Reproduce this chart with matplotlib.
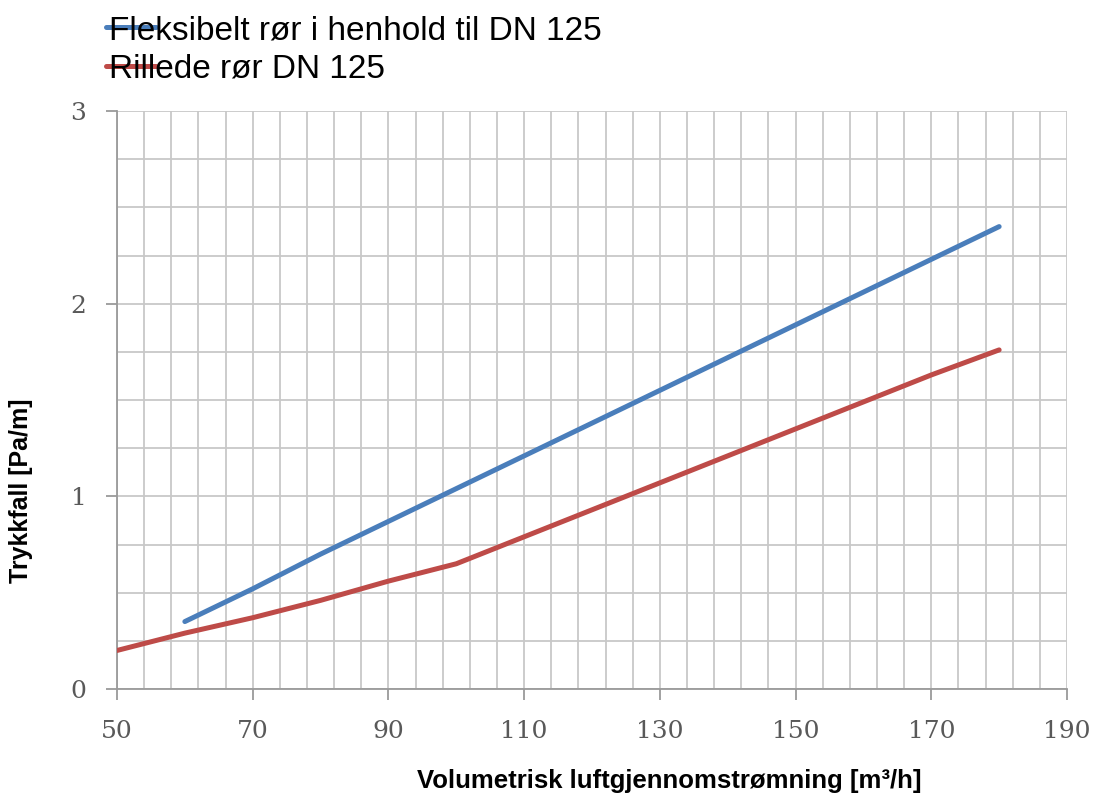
import numpy as np
import matplotlib
matplotlib.use("Agg")
import matplotlib.pyplot as plt

# data
flow_blue = [60, 70, 80, 90, 100, 110, 120, 130, 140, 150, 160, 170, 180]
dp_blue = [0.35, 0.52, 0.70, 0.87, 1.04, 1.21, 1.38, 1.55, 1.72, 1.89, 2.06, 2.23, 2.40]
flow_red = [50, 60, 70, 80, 90, 100, 110, 120, 130, 140, 150, 160, 170, 180]
dp_red = [0.20, 0.29, 0.37, 0.46, 0.56, 0.65, 0.79, 0.93, 1.07, 1.21, 1.35, 1.49, 1.63, 1.76]

label_blue = "Fleksibelt rør i henhold til DN 125"
label_red = "Rillede rør DN 125"
x_ticks = [50, 70, 90, 110, 130, 150, 170, 190]
y_ticks = [0, 1, 2, 3]

fig = plt.figure(figsize=(10.95, 8.01), dpi=100)
ax = fig.add_axes([117/1095, 1 - 689/801, 950/1095, 578/801])

ax.plot(flow_blue, dp_blue, color="#4a7ebb", lw=3.6, solid_capstyle="round", label=label_blue, zorder=3)
ax.plot(flow_red, dp_red, color="#be4b48", lw=3.6, solid_capstyle="round", label=label_red, zorder=3)

ax.set_xlim(50, 190)
ax.set_ylim(0, 3)
ax.set_xticks(x_ticks)
ax.set_yticks(y_ticks)
ax.set_xticks(np.arange(50, 191, 4), minor=True)
ax.set_yticks(np.arange(0, 3.01, 0.25), minor=True)
ax.grid(which="both", color="#c8c8c8", lw=1.3)
ax.set_axisbelow(True)

for s in ["top", "right"]:
    ax.spines[s].set_visible(False)
for s in ["left", "bottom"]:
    ax.spines[s].set_color("#9a9a9a")
    ax.spines[s].set_linewidth(1.3)

ax.tick_params(which="major", length=8, width=1.3, color="#9a9a9a",
               labelsize=18, labelcolor="#595959")
ax.tick_params(axis="x", which="major", pad=14)
ax.tick_params(axis="y", which="major", pad=14)
ax.tick_params(which="minor", length=0)
for lab in ax.get_xticklabels() + ax.get_yticklabels():
    lab.set_family("DejaVu Serif")

ax.set_xlabel("Volumetrisk luftgjennomstrømning [m³/h]", fontsize=18.5, fontweight="bold",
              family="Liberation Sans")
ax.xaxis.set_label_coords(0.581, -0.138)
ax.set_ylabel("Trykkfall [Pa/m]", fontsize=18, fontweight="bold",
              family="Liberation Sans")
ax.yaxis.set_label_coords(-0.088, 0.343)

fig.legend(loc="upper left", bbox_to_anchor=(106/1095, 1 - 15/801), frameon=False,
           prop={"family": "Liberation Sans", "size": 24}, handlelength=1.5,
           handletextpad=-1.4, borderpad=0, borderaxespad=0, labelspacing=0.22)

fig.savefig("out.png", dpi=100)
